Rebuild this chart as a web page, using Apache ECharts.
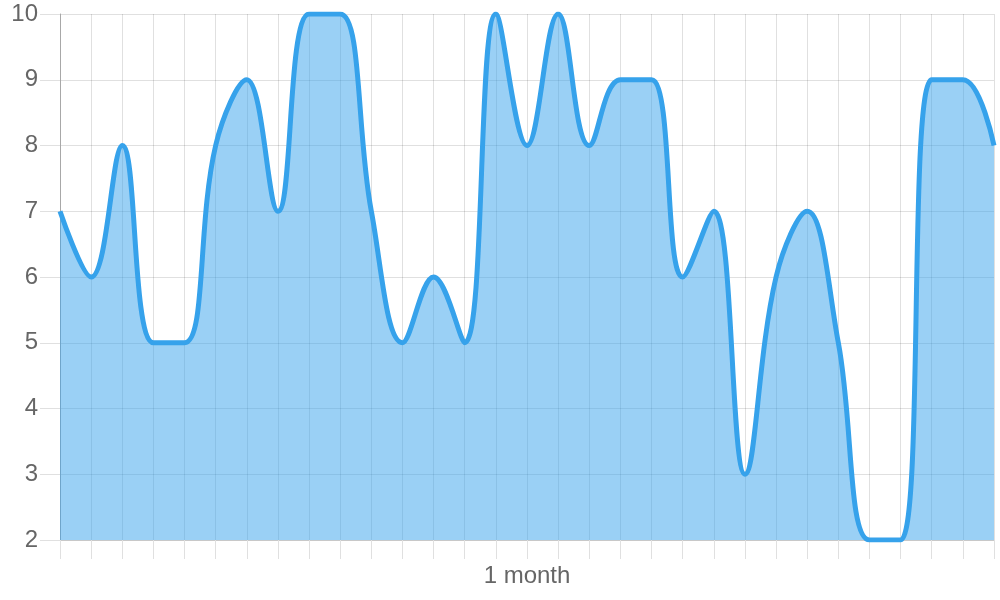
<!DOCTYPE html>
<html>
<head>
<meta charset="utf-8">
<script src="https://cdn.jsdelivr.net/npm/echarts@6/dist/echarts.min.js"></script>
<style>
html,body{margin:0;padding:0;background:#fff;}
#chart{width:1000px;height:600px;}
</style>
</head>
<body>
<div id="chart"></div>
<script>
// Data
const categories = Array.from({length: 31}, (_, i) => 'Day ' + (i + 1));
const values = [7, 6, 8, 5, 5, 8, 9, 7, 10, 10, 7, 5, 6, 5, 10, 8, 10, 8, 9, 9, 6, 7, 3, 6, 7, 5, 2, 2, 9, 9, 8];
const xAxisTitle = '1 month';
const yMin = 2, yMax = 10, yStep = 1;

const chart = echarts.init(document.getElementById('chart'), null, {renderer: 'canvas'});
const font = 'Liberation Sans, Arial, Helvetica, sans-serif';
chart.setOption({
  animation: false,
  grid: {left: 60, right: 6, top: 14, bottom: 60, containLabel: false},
  xAxis: {
    type: 'category',
    data: categories,
    boundaryGap: false,
    name: xAxisTitle,
    nameLocation: 'middle',
    nameGap: 24,
    nameTextStyle: {color: '#666', fontSize: 24, fontFamily: font},
    axisLine: {show: true, lineStyle: {color: '#c8c8c8', width: 1}},
    axisTick: {show: true, interval: 0, length: 19, lineStyle: {color: '#e0e0e0', width: 1}},
    axisLabel: {show: false, interval: 0},
    splitLine: {show: true, interval: 0, lineStyle: {color: 'rgba(0,0,0,0.12)', width: 1}}
  },
  yAxis: {
    type: 'value',
    min: yMin, max: yMax, interval: yStep,
    axisLine: {show: true, lineStyle: {color: '#a8a8a8', width: 1}},
    axisTick: {show: true, length: 20, lineStyle: {color: '#e0e0e0', width: 1}},
    axisLabel: {color: '#666', fontSize: 24, fontFamily: font, margin: 22},
    splitLine: {show: true, lineStyle: {color: 'rgba(0,0,0,0.12)', width: 1}}
  },
  series: [{
    type: 'line',
    data: values,
    smooth: 0.4,
    showSymbol: false,
    symbol: 'none',
    lineStyle: {color: '#36a2eb', width: 5},
    areaStyle: {color: '#36a2eb', opacity: 0.5, origin: 'start'}
  }]
});
</script>
</body>
</html>
